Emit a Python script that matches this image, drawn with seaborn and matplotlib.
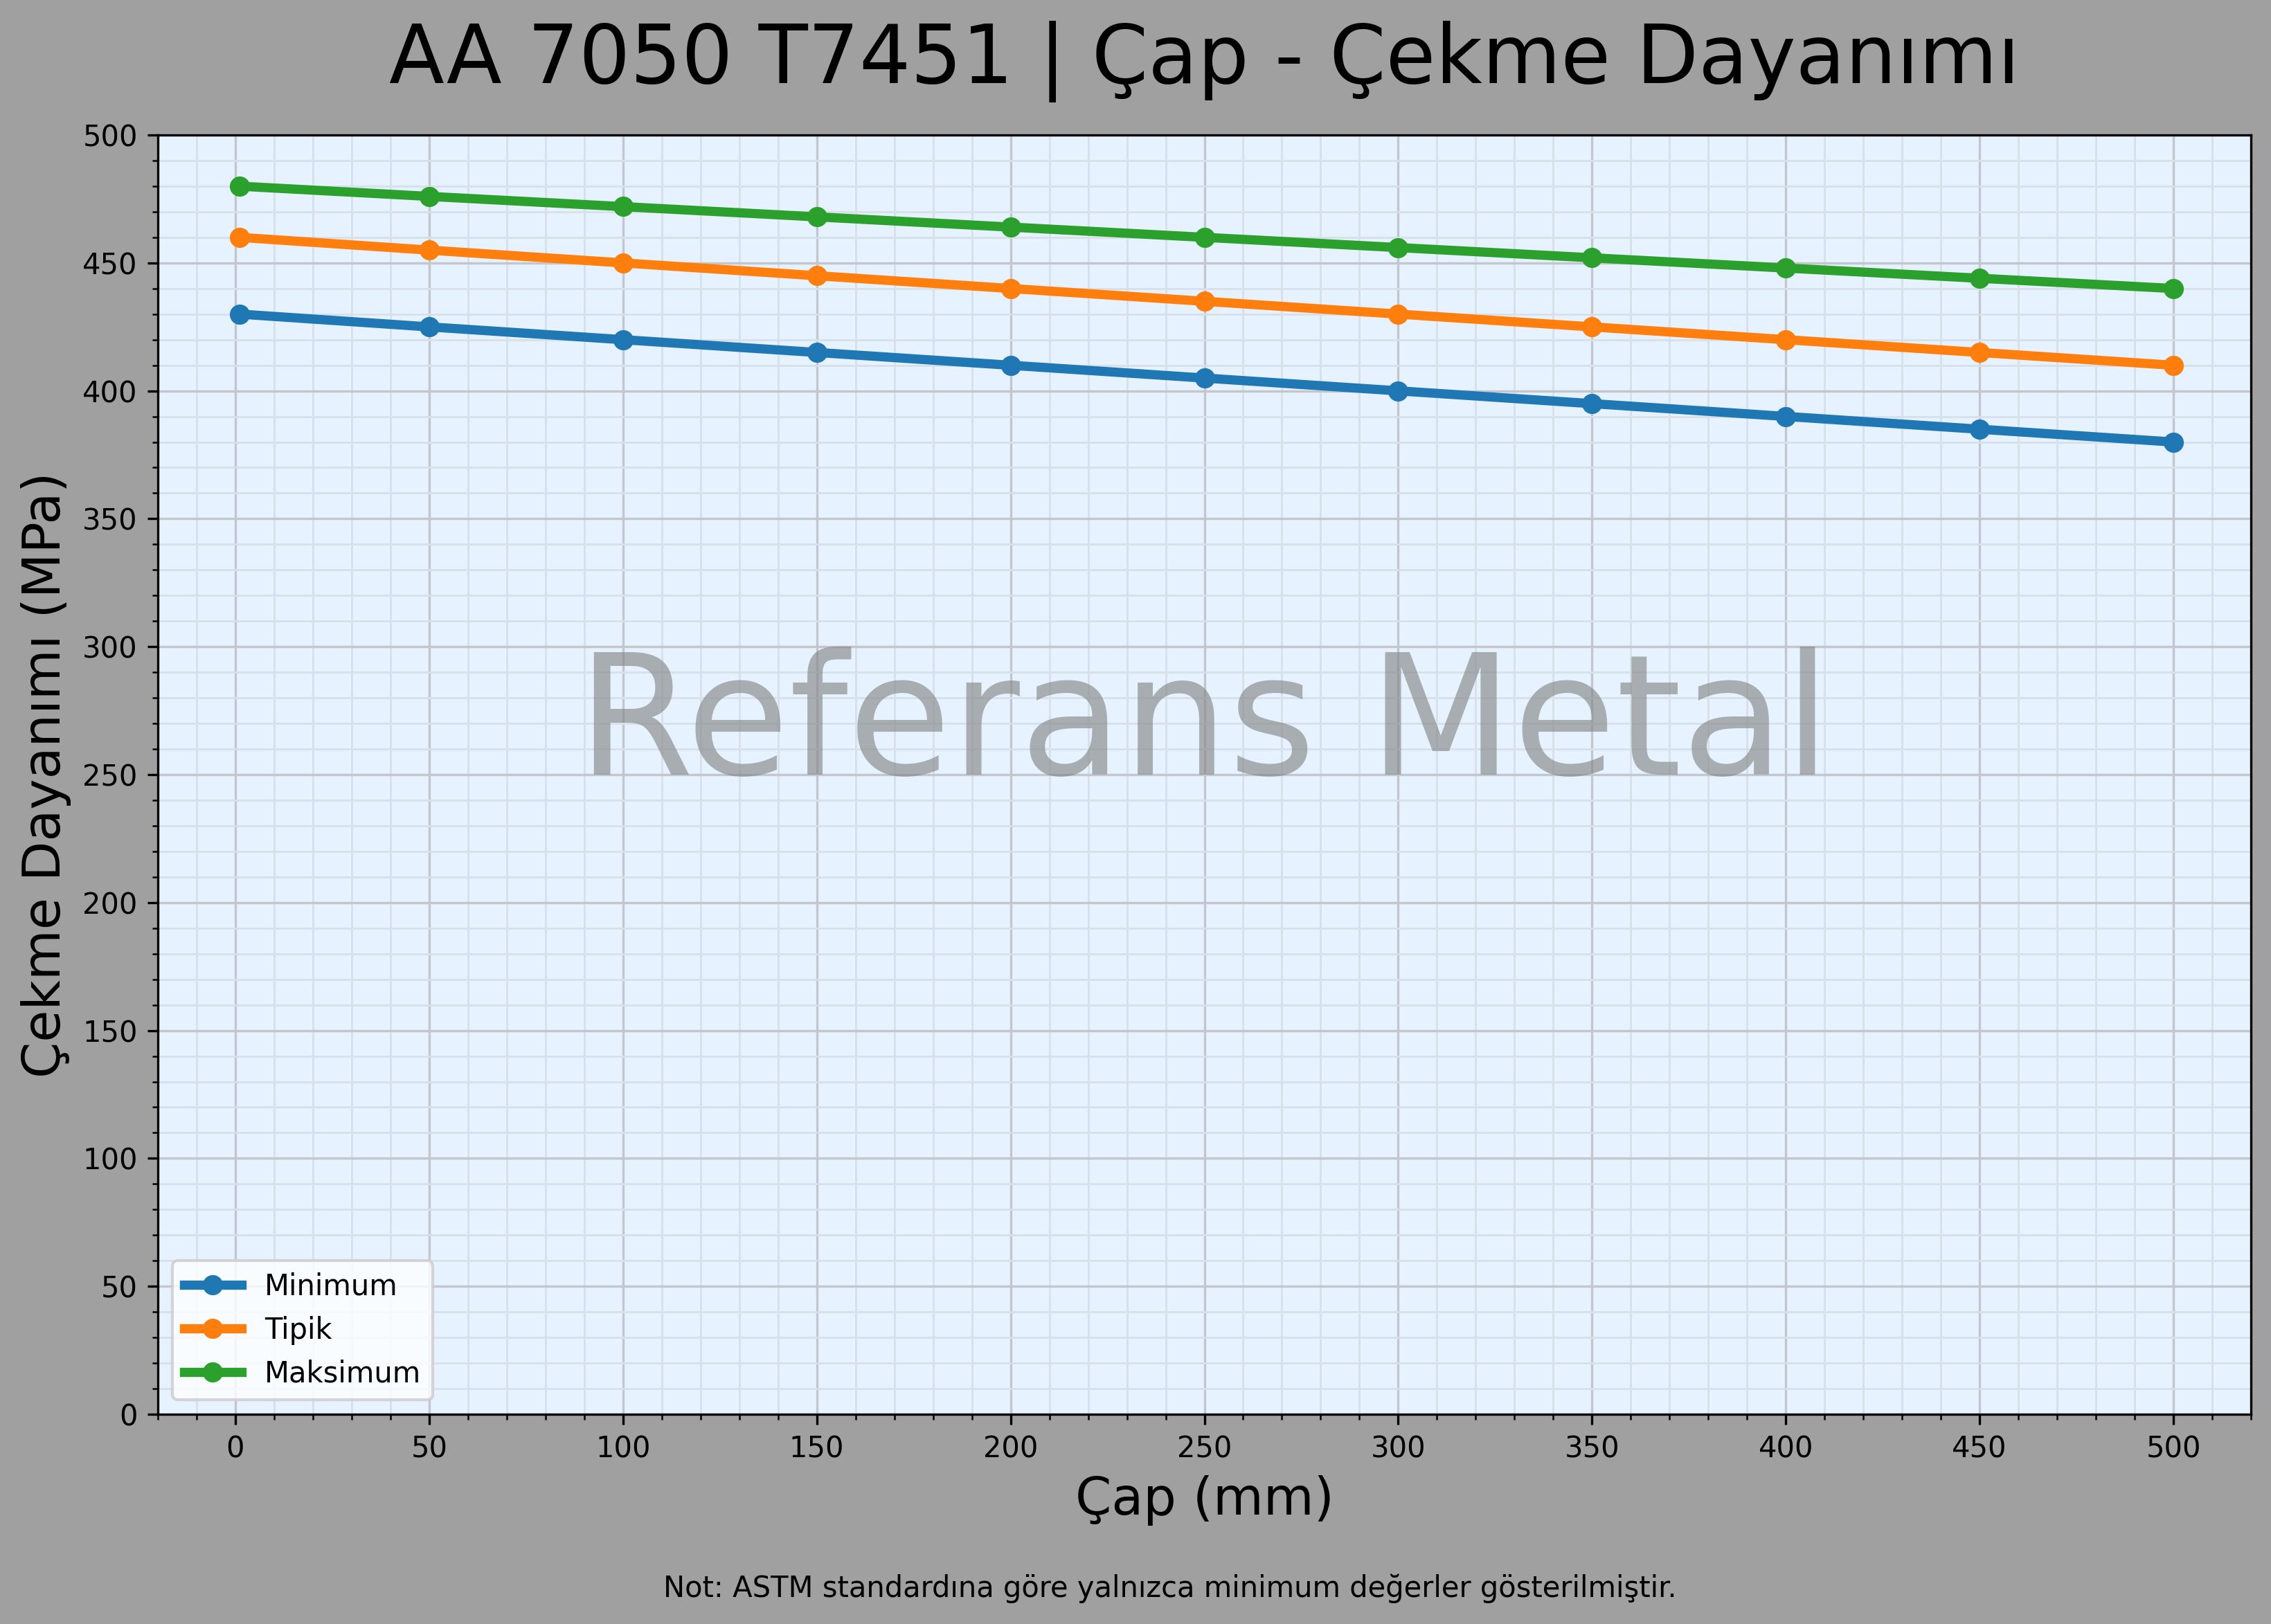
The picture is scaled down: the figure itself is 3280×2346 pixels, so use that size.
import numpy as np
import pandas as pd
import matplotlib.pyplot as plt
import seaborn as sns
from matplotlib.ticker import MultipleLocator

# Data
cap_mm = [1, 50, 100, 150, 200, 250, 300, 350, 400, 450, 500]
minimum = [430, 425, 420, 415, 410, 405, 400, 395, 390, 385, 380]
tipik = [460, 455, 450, 445, 440, 435, 430, 425, 420, 415, 410]
maksimum = [480, 476, 472, 468, 464, 460, 456, 452, 448, 444, 440]
series_names = ["Minimum", "Tipik", "Maksimum"]
colors = ["#1f77b4", "#ff7f0e", "#2ca02c"]

df = pd.DataFrame({"cap": cap_mm * 3,
                   "deger": minimum + tipik + maksimum,
                   "seri": [n for n in series_names for _ in cap_mm]})

fig, ax = plt.subplots(figsize=(3280 / 300, 2346 / 300), dpi=300)
fig.patch.set_facecolor("#a0a0a0")
ax.set_facecolor("#e6f2ff")
fig.subplots_adjust(left=228 / 3280, right=3251 / 3280,
                    bottom=1 - 2043 / 2346, top=1 - 195 / 2346)

sns.lineplot(data=df, x="cap", y="deger", hue="seri", hue_order=series_names,
             palette=colors, marker="o", markersize=7, markeredgewidth=0,
             linewidth=3.2, ax=ax)

# watermark
ax.text(0.5, 0.5, "Referans Metal", transform=ax.transAxes, fontsize=58,
        color="gray", alpha=0.6, ha="center", va="baseline", zorder=5)

ax.set_xlim(-20, 520)
ax.set_ylim(0, 500)
ax.xaxis.set_major_locator(MultipleLocator(50))
ax.xaxis.set_minor_locator(MultipleLocator(10))
ax.yaxis.set_major_locator(MultipleLocator(50))
ax.yaxis.set_minor_locator(MultipleLocator(10))
ax.grid(which="major", color="#c3c6cb", linewidth=0.8)
ax.grid(which="minor", color="#d8e0ea", linewidth=0.7)
ax.set_axisbelow(True)
ax.tick_params(labelsize=10)

ax.set_title("AA 7050 T7451 | Çap - Çekme Dayanımı", fontsize=28, pad=18)
ax.set_xlabel("Çap (mm)", fontsize=18)
ax.set_ylabel("Çekme Dayanımı (MPa)", fontsize=18)

ax.legend(loc="lower left", fontsize=10, title=None)

fig.text(1690 / 3280, (2346 - 2307) / 2346,
         "Not: ASTM standardına göre yalnızca minimum değerler gösterilmiştir.",
         fontsize=10, ha="center", va="baseline")

plt.savefig("out.png", dpi=300, facecolor=fig.get_facecolor())
